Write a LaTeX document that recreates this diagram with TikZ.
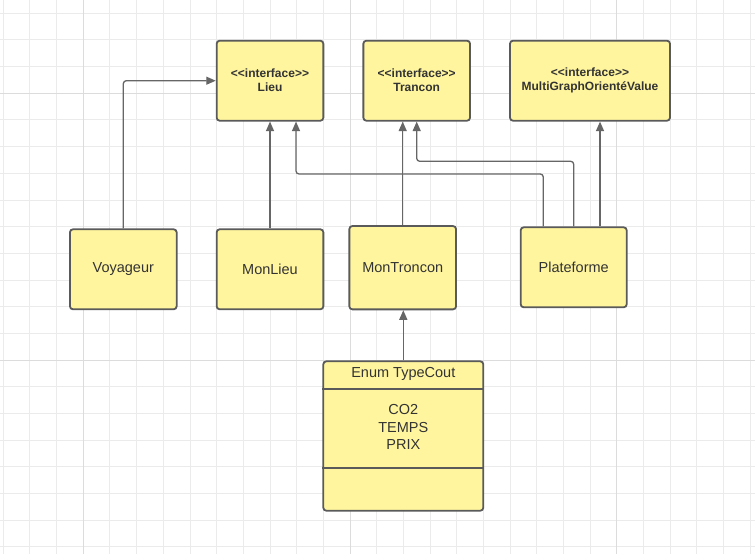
\documentclass[tikz,border=0pt]{standalone}
\usepackage{fontspec}
\setmainfont{Liberation Sans}
\usetikzlibrary{arrows.meta,calc}
\definecolor{boxfill}{HTML}{FFF59E}
\definecolor{boxline}{HTML}{5A5A5A}
\definecolor{connline}{HTML}{666666}
\definecolor{txt}{HTML}{333333}
\definecolor{gridminor}{HTML}{EBEBEB}
\definecolor{gridmajor}{HTML}{DCDCDC}
\newcommand\ltsym{\char60\kern0pt}
\newcommand\gtsym{\char62\kern0pt}
\newcommand\ifacetag{\ltsym\ltsym interface\gtsym\gtsym}
\tikzset{
  classbox/.style={draw=boxline, fill=boxfill, line width=1.8pt, rounded corners=3pt,
    text=txt, align=center, inner sep=0pt},
  conn/.style={draw=connline, line width=1.3pt, rounded corners=3pt,
    -{Triangle[length=9.5pt,width=8pt]}},
  ifacetext/.style={font=\fontsize{12}{14}\selectfont\bfseries},
  plaintext/.style={font=\fontsize{14.5}{18}\selectfont},
}
\begin{document}
\begin{tikzpicture}[x=1pt,y=-1pt]
\useasboundingbox (0,0) rectangle (755,554);
\fill[white] (0,0) rectangle (755,554);
% grid
\foreach \i in {0,...,28} {
  \draw[gridminor, line width=1pt] ({3.33+26.667*\i},0) -- ({3.33+26.667*\i},554);
}
\foreach \i in {0,...,20} {
  \draw[gridminor, line width=1pt] (0,{13.33+26.667*\i}) -- (755,{13.33+26.667*\i});
}
\foreach \xx in {83.33,350,616.67} \draw[gridmajor, line width=1pt] (\xx,0) -- (\xx,554);
\foreach \yy in {93.33,360} \draw[gridmajor, line width=1pt] (0,\yy) -- (755,\yy);

% interfaces
\node[classbox, ifacetext, minimum width=106.7pt, minimum height=80pt] (lieu) at (270,80.7)
  {\ifacetag\\Lieu};
\node[classbox, ifacetext, minimum width=106.7pt, minimum height=80pt] (trancon) at (416.7,80.7)
  {\ifacetag\\Trancon};
\node[classbox, ifacetext, minimum width=160pt, minimum height=80pt] (multi) at (590,80.7)
  {\ifacetag\\MultiGraphOrientéValue};

% classes
\node[classbox, plaintext, minimum width=106.7pt, minimum height=80pt] (voy) at (123.3,269.3) {Voyageur};
\node[classbox, plaintext, minimum width=106.7pt, minimum height=80pt] (monlieu) at (270,269.3) {MonLieu};
\node[classbox, plaintext, minimum width=106.7pt, minimum height=83.3pt] (montroncon) at (402.7,267.7) {MonTroncon};
\node[classbox, plaintext, minimum width=106pt, minimum height=80pt] (plat) at (573.7,267.3) {Plateforme};

% enum
\node[classbox, minimum width=160pt, minimum height=149.4pt] (enum) at (403.3,436) {};
\node[plaintext, text=txt, inner sep=0pt] (enumtitle) at (403.3,373.5) {Enum TypeCout};
\node[plaintext, text=txt, inner sep=0pt, align=center, font=\fontsize{14.5}{17.8}\selectfont] (enumitems) at (403.3,427) {CO2\\TEMPS\\PRIX};
\draw[boxline, line width=1.8pt] (enum.west |- 0,389.3) -- (enum.east |- 0,389.3);
\draw[boxline, line width=1.8pt] (enum.west |- 0,468) -- (enum.east |- 0,468);

% connectors
\draw[conn] (voy.north) |- (lieu.west);
\draw[conn] (monlieu.north) -- (lieu.south);
\coordinate (j1) at (296,174);
\draw[conn] ([xshift=-30.4pt]plat.north) |- (j1) -- ([xshift=26pt]lieu.south);
\coordinate (j2) at (416.7,161.3);
\draw[conn] (plat.north) |- (j2) -- (trancon.south);
\draw[conn] (montroncon.north) -- (montroncon.north |- trancon.south);
\draw[conn] ([xshift=26.3pt]plat.north) -- ([xshift=10pt]multi.south);
\draw[conn] (enum.north) -- (enum.north |- montroncon.south);
\end{tikzpicture}
\end{document}
